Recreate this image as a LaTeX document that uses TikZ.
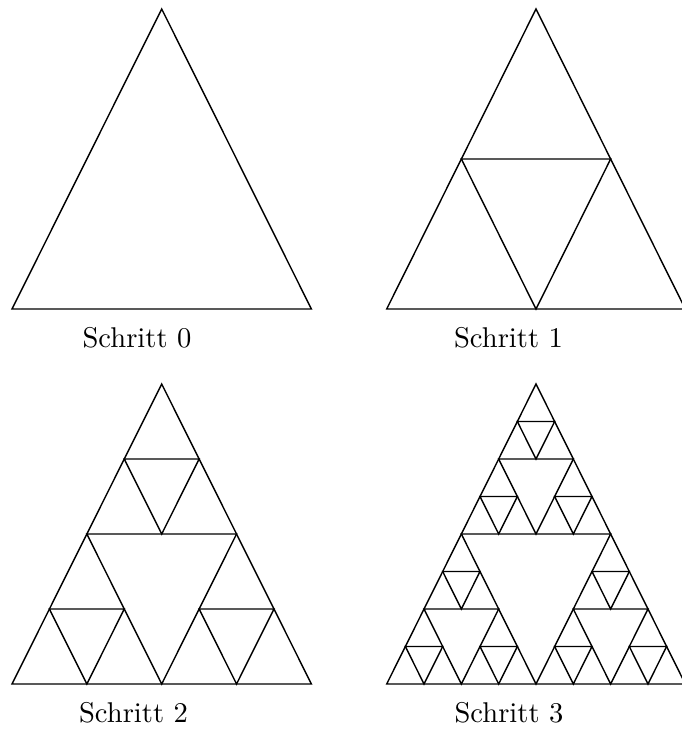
\documentclass[tikz,border=0pt]{standalone}
\usepackage{tikz}
\usetikzlibrary{positioning, calc}

% one Sierpinski step: depth, left x, base y, width, height
\newcommand\sierpstep[5]{%
  \ifnum#1>0
    \begingroup
    \pgfmathsetmacro\sierpw{#4/2}%
    \pgfmathsetmacro\sierph{#5/2}%
    \pgfmathtruncatemacro\sierpd{#1-1}%
    \pgfmathsetmacro\sierpx{#2}%
    \pgfmathsetmacro\sierpy{#3}%
    \pgfmathsetmacro\sierpxa{\sierpx+\sierpw}%
    \pgfmathsetmacro\sierpxb{\sierpx+\sierpw/2}%
    \pgfmathsetmacro\sierpxc{\sierpx+3*\sierpw/2}%
    \pgfmathsetmacro\sierpyb{\sierpy-\sierph}%
    \draw[tri] (\sierpxa,\sierpy) -- (\sierpxb,\sierpyb) -- (\sierpxc,\sierpyb) -- cycle;
    \edef\sierpnext{%
      \noexpand\sierpstep{\sierpd}{\sierpx}{\sierpy}{\sierpw}{\sierph}%
      \noexpand\sierpstep{\sierpd}{\sierpxa}{\sierpy}{\sierpw}{\sierph}%
      \noexpand\sierpstep{\sierpd}{\sierpxb}{\sierpyb}{\sierpw}{\sierph}}%
    \sierpnext
    \endgroup
  \fi}

\begin{document}
\begin{tikzpicture}[
    x=0.35pt, y=-0.35pt,
    tri/.style={line width=0.5pt, line join=miter},
    caption/.style={anchor=base, font=\normalsize}
]
\useasboundingbox (0,0) rectangle (682,731);

% outer triangles
\draw[tri] (12,309) -- (161.7,9) -- (311.4,309) -- cycle;
\draw[tri] (386.7,309) -- (536,9) -- (685.3,309) -- cycle;
\draw[tri] (12,684) -- (161.7,384) -- (311.4,684) -- cycle;
\draw[tri] (386.7,684) -- (536,384) -- (685.3,684) -- cycle;

% inner steps
\sierpstep{1}{386.7}{309}{298.6}{300}
\sierpstep{2}{12}{684}{299.4}{300}
\sierpstep{3}{386.7}{684}{298.6}{300}

\node[caption] (schritt0) at (137,347) {Schritt 0};
\node[caption] (schritt1) at (508.5,347) {Schritt 1};
\node[caption] (schritt2) at (133.5,722) {Schritt 2};
\node[caption] (schritt3) at (509,722) {Schritt 3};

\end{tikzpicture}
\end{document}
